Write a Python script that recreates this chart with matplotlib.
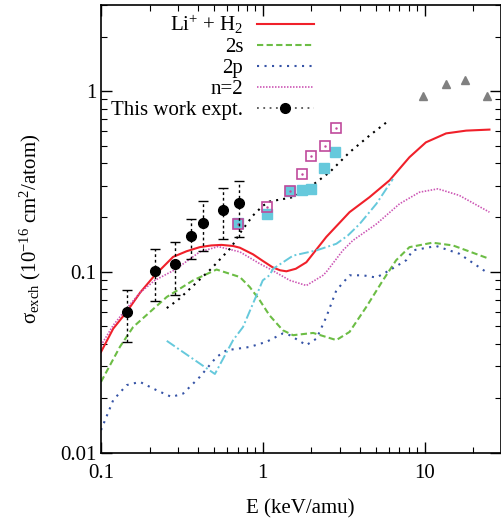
import matplotlib
matplotlib.use("Agg")
import matplotlib.pyplot as plt
from matplotlib.lines import Line2D
from matplotlib.ticker import FixedLocator, FixedFormatter, LogLocator, NullFormatter

plt.rcParams['font.family'] = ['Liberation Serif', 'DejaVu Serif']
plt.rcParams['mathtext.fontset'] = 'custom'
plt.rcParams['mathtext.rm'] = 'Liberation Serif'
plt.rcParams['mathtext.it'] = 'Liberation Serif:italic'

# ---- data ----
red_x = [0.1, 0.119, 0.144, 0.175, 0.215, 0.279, 0.338, 0.408, 0.48, 0.556, 0.656, 0.722, 0.871, 1.0,
         1.15, 1.28, 1.40, 1.6, 1.86, 2.47, 3.44, 4.57, 6.08, 8.07, 10.2, 13.6, 18.1, 25.2]
red_y = [0.036, 0.0485, 0.060, 0.077, 0.0957, 0.121, 0.130, 0.137, 0.140, 0.141, 0.139, 0.136, 0.125, 0.115,
         0.106, 0.102, 0.1007, 0.104, 0.113, 0.156, 0.214, 0.259, 0.321, 0.431, 0.521, 0.584, 0.605, 0.613]

s2_x = [0.1, 0.131, 0.158, 0.255, 0.371, 0.518, 0.722, 0.831, 0.957, 1.10, 1.33, 1.54,
        2.05, 2.85, 3.44, 4.37, 5.53, 6.68, 8.07, 11.2, 15.0, 25.2]
s2_y = [0.0246, 0.0385, 0.0495, 0.0726, 0.0897, 0.103, 0.0936, 0.0824, 0.0697, 0.0575, 0.0475, 0.0446,
        0.0459, 0.0419, 0.0465, 0.064, 0.0897, 0.116, 0.137, 0.145, 0.140, 0.118]

p2_x = [0.1, 0.119, 0.144, 0.174, 0.221, 0.273, 0.322, 0.408, 0.518, 0.597, 0.831, 1.055,
        1.33, 1.47, 1.86, 2.15, 2.47, 2.85, 3.44, 4.16, 5.04, 6.08, 7.71, 8.47, 11.8, 16.4, 24.0]
p2_y = [0.0133, 0.0195, 0.0236, 0.0246, 0.0221, 0.0203, 0.0212, 0.0262, 0.0338, 0.0368, 0.0384, 0.041,
        0.0456, 0.0446, 0.0393, 0.0427, 0.0562, 0.079, 0.0957, 0.0957, 0.093, 0.102, 0.116, 0.1315, 0.139, 0.126, 0.1]

n2_x = [0.1, 0.119, 0.144, 0.175, 0.215, 0.288, 0.408, 0.530, 0.722, 0.957, 1.10, 1.47, 1.86,
        2.36, 2.47, 3.13, 3.6, 5.04, 7.01, 9.31, 12.1, 16.4, 25.2]
n2_y = [0.0392, 0.0506, 0.0627, 0.077, 0.0897, 0.103, 0.129, 0.138, 0.129, 0.111, 0.104, 0.0897, 0.084,
        0.0957, 0.0998, 0.1315, 0.149, 0.184, 0.238, 0.276, 0.288, 0.265, 0.214]

exp_x = [0.144, 0.215, 0.288, 0.358, 0.430, 0.571, 0.718]
exp_y = [0.060, 0.1016, 0.110, 0.158, 0.187, 0.221, 0.239]
exp_hi = [0.079, 0.134, 0.146, 0.197, 0.248, 0.292, 0.319]
exp_lo = [0.041, 0.069, 0.074, 0.118, 0.130, 0.152, 0.155]

blk_x = [0.255, 0.30, 0.48, 0.64, 0.72, 0.87, 1.0, 1.10, 1.54, 1.95, 2.59, 3.44, 4.57, 6.08]
blk_y = [0.063, 0.070, 0.104, 0.137, 0.163, 0.205, 0.232, 0.245, 0.259, 0.294, 0.356, 0.459, 0.568, 0.693]

cy_x = [0.255, 0.506, 0.656, 0.755, 0.914, 1.0, 1.10, 1.16, 1.54, 2.15, 2.85, 3.36, 3.97, 5.04, 6.38]
cy_y = [0.0415, 0.0272, 0.0419, 0.0495, 0.074, 0.0897, 0.0957, 0.104, 0.123, 0.1315, 0.143, 0.159,
        0.184, 0.238, 0.327]

csq_x = [0.705, 1.065, 1.47, 1.75, 1.99, 2.39, 2.81]
csq_y = [0.186, 0.210, 0.279, 0.285, 0.288, 0.377, 0.462]

psq_x = [0.699, 1.065, 1.47, 1.76, 2.0, 2.41, 2.83]
psq_y = [0.183, 0.228, 0.279, 0.346, 0.440, 0.496, 0.626]

tri_x = [9.77, 13.6, 17.8, 24.3]
tri_y = [0.944, 1.10, 1.15, 0.944]

labels = [r'Li$^{+}$ + H$_{2}$', '2s', '2p', 'n=2', 'This work expt.']
xticks = [0.1, 1, 10]
xticklabels = ['0.1', '1', '10']
yticks = [0.01, 0.1, 1]
yticklabels = ['0.01', '0.1', '1']

# ---- colours ----
RED = '#f0202a'
GREEN = '#6cbd45'
BLUE = '#3553a6'
PINK = '#cc55b4'
CYAN = '#66c9dc'

fig = plt.figure(figsize=(5.01, 5.22), dpi=100)
ax = fig.add_axes([101 / 501, 69.5 / 522, 399.5 / 501, 447.5 / 522])
ax.set_xscale('log')
ax.set_yscale('log')

l1, = ax.plot(red_x, red_y, color=RED, lw=1.5, ls='-')
l2, = ax.plot(s2_x, s2_y, color=GREEN, lw=1.5, ls=(0, (3.0, 1.6)))
l3, = ax.plot(p2_x, p2_y, color=BLUE, lw=1.5, ls=(0, (1.0, 2.6)))
l4, = ax.plot(n2_x, n2_y, color=PINK, lw=1.2, ls=(0, (0.9, 0.9)))
ax.plot(blk_x, blk_y, color='black', lw=1.5, ls=(0, (1.0, 2.4)))
ax.plot(cy_x, cy_y, color=CYAN, lw=1.4, ls=(0, (5, 1.5, 1, 1.5)))

ax.plot(csq_x, csq_y, ls='none', marker='s', ms=6.5, mfc=CYAN, mec=CYAN)
ax.plot(psq_x, psq_y, ls='none', marker='s', ms=6.5, mfc='none', mec='#c04a9c', mew=1.2)
ax.plot(psq_x, psq_y, ls='none', marker='.', ms=1.5, color='#c04a9c')
ax.plot(tri_x, tri_y, ls='none', marker='^', ms=6, color='#808080')

yerr = [[y - lo for y, lo in zip(exp_y, exp_lo)], [hi - y for y, hi in zip(exp_y, exp_hi)]]
eb = ax.errorbar(exp_x, exp_y, yerr=yerr, fmt='o', color='black', ms=7,
                 ecolor='black', elinewidth=1.0, capsize=3.5, capthick=1.0)
eb[2][0].set_linestyle((0, (2, 2)))

ax.set_xlim(0.1, 29.5)
ax.set_ylim(0.01, 3.0)

ax.xaxis.set_major_locator(FixedLocator(xticks))
ax.xaxis.set_major_formatter(FixedFormatter(xticklabels))
ax.yaxis.set_major_locator(FixedLocator(yticks))
ax.yaxis.set_major_formatter(FixedFormatter(yticklabels))
ax.xaxis.set_minor_locator(LogLocator(base=10, subs=range(2, 10)))
ax.yaxis.set_minor_locator(LogLocator(base=10, subs=range(2, 10)))
ax.xaxis.set_minor_formatter(NullFormatter())
ax.yaxis.set_minor_formatter(NullFormatter())
ax.tick_params(which='both', direction='in', top=True, right=True, labelsize=15)
ax.tick_params(which='major', length=8, width=1.0)
ax.tick_params(which='minor', length=4, width=0.8)
ax.tick_params(axis='x', pad=8)
for s in ax.spines.values():
    s.set_linewidth(1.2)

ax.set_xlabel('E (keV/amu)', fontsize=15, labelpad=12)
ax.set_ylabel(r'σ$_{\rm exch}$ (10$^{-16}$ cm$^{2}$/atom)', fontsize=15, labelpad=12)

hexp = Line2D([], [], color='#555555', lw=1.3, ls=(0, (1, 2.5)), marker='o', ms=7,
              mfc='black', mec='black')
leg = ax.legend([l1, l2, l3, l4, hexp], labels, loc='upper right',
                bbox_to_anchor=(314 / 501, 1 - 13 / 522), bbox_transform=fig.transFigure,
                markerfirst=False, frameon=False, fontsize=15, handlelength=2.75,
                handletextpad=0.65, labelspacing=0.07, borderaxespad=0.0, numpoints=1,
                borderpad=0.0)

fig.savefig('out.png', dpi=100)
